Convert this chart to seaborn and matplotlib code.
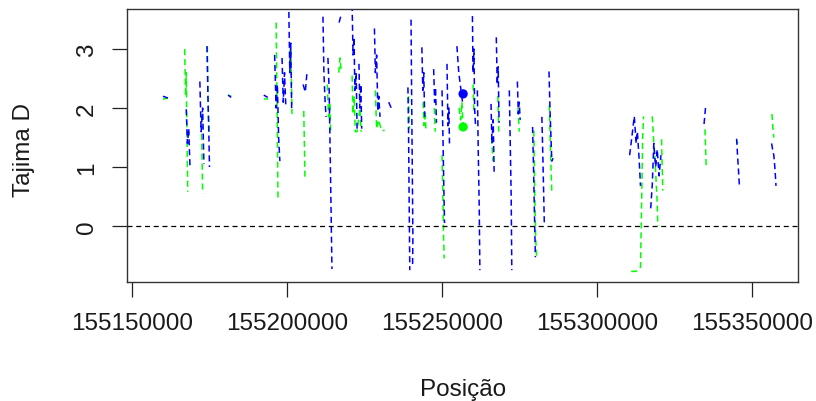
import numpy as np
import pandas as pd
import matplotlib
matplotlib.use("Agg")
import matplotlib.pyplot as plt
import seaborn as sns

N = np.nan
# ---- data (positions in kb, Tajima's D values); NaN marks a gap ----
blue_pos = [155160.0,155161.6, N, 155167.5,155167.9,155168.3,155168.7, N,
            155171.9,155172.3,155172.8,155173.2, N, 155174.2,155174.5,155174.8,155175.0, N,
            155181.0,155182.0, N, 155192.5,155193.8, N,
            155196.0,155196.5,155196.9,155197.3,155197.7, N,
            155198.4,155198.8,155199.2,155199.6, N, 155200.6,155200.9,155201.2,155201.5, N,
            155205.2,155205.9,155206.4, N,
            155211.6,155211.9,155212.3,155212.6, N, 155213.2,155213.6,155214.0,155214.5, N,
            155216.8,155217.3, N,
            155221.0,155221.3,155221.6,155221.9,155222.3,155222.6, N,
            155223.2,155223.5,155223.8,155224.1, N,
            155228.2,155228.5,155228.9,155229.3,155229.6,155230.0, N,
            155232.8,155233.8, N,
            155239.0,155239.2,155239.4,155239.6, N,
            155240.0,155240.2,155240.4,155240.6,155240.5, N,
            155243.5,155243.8,155244.1,155244.4, N,
            155247.3,155247.6,155247.9,155248.2, N,
            155250.0,155250.3,155250.6,155250.8, N,
            155251.6,155251.9,155252.2,155252.4, N,
            155254.8,155255.4,155256.0,155256.6, N,
            155259.8,155260.0,155260.3,155260.5,155260.8, N,
            155261.4,155261.7,155262.0,155262.2, N,
            155265.8,155266.1,155266.5,155266.8, N,
            155267.5,155267.8,155268.1,155268.4, N,
            155271.7,155272.0,155272.3,155272.5, N,
            155274.3,155274.6,155274.9,155275.2, N,
            155279.2,155279.5,155279.8,155280.1, N,
            155282.2,155282.5,155282.8,155283.0, N,
            155284.5,155284.8,155285.1,155285.4,155285.8, N,
            155310.5,155311.2,155312.0,155312.6,155313.0,155313.6,155314.0, N,
            155317.3,155317.8,155318.3,155318.9,155319.4,155320.0,155320.6, N,
            155334.5,155335.0, N,
            155345.0,155345.3,155345.6,155345.9, N,
            155356.3,155356.6,155357.0,155357.4,155357.7]
blue_td = [2.20,2.17, N, 1.98,1.40,1.65,1.02, N,
           2.45,1.60,2.00,1.05, N, 3.05,2.20,1.55,1.00, N,
           2.22,2.18, N, 2.22,2.18, N,
           2.90,2.00,2.40,1.50,1.10, N,
           2.85,2.10,2.60,2.05, N, 3.63,2.60,3.10,2.00, N,
           2.40,2.27,2.58, N,
           3.55,2.60,2.10,1.85, N, 2.85,2.30,1.00,-0.73, N,
           3.45,3.55, N,
           3.75,2.90,3.20,2.30,2.60,1.65, N,
           2.75,2.00,2.40,1.65, N,
           3.35,2.60,2.90,1.95,2.20,1.85, N,
           2.10,1.98, N,
           2.35,1.60,0.40,-0.75, N,
           3.50,2.20,1.00,-0.20,-0.70, N,
           3.03,2.30,2.60,1.85, N,
           2.66,2.10,2.35,1.75, N,
           2.30,1.50,0.60,0.05, N,
           2.75,1.70,2.00,1.40, N,
           3.05,2.60,2.35,2.10, N,
           3.56,2.60,3.00,2.00,1.70, N,
           2.30,1.20,0.30,-0.75, N,
           2.07,1.40,1.80,0.92, N,
           3.20,2.40,2.70,1.75, N,
           2.30,1.40,0.50,-0.75, N,
           2.45,1.90,2.10,1.80, N,
           1.68,1.00,0.20,-0.53, N,
           1.85,1.20,0.50,0.00, N,
           2.62,2.00,1.55,1.10,1.15, N,
           1.20,1.50,1.86,1.40,1.60,1.10,0.68, N,
           0.30,0.70,1.40,1.00,1.30,0.85,1.20, N,
           1.73,2.02, N,
           1.48,1.20,0.95,0.68, N,
           1.40,1.30,1.20,0.95,0.68]

green_pos = [155160.0,155161.6, N,
             155167.0,155167.3,155167.5,155167.8,155168.0, N,
             155172.4,155172.6,155172.8, N, 155174.3,155174.6,155174.9, N,
             155181.0,155182.0, N, 155192.5,155193.8, N,
             155196.5,155196.7,155196.9,155197.1, N,
             155201.3,155201.6, N,
             155205.4,155205.6,155205.8, N,
             155213.0,155213.4,155213.8,155214.1, N,
             155216.7,155217.1,155217.5, N,
             155221.0,155221.3,155221.7,155222.0,155222.6,155223.5,155223.9, N,
             155228.5,155228.9,155229.5,155230.5,155231.5, N,
             155239.2,155239.5, N,
             155243.9,155244.2,155244.6,155244.8, N,
             155247.5,155247.8, N,
             155250.0,155250.3,155250.5,155250.7, N,
             155255.5,155256.0,155256.4,155256.8, N,
             155260.0,155260.3, N,
             155266.0,155266.4, N, 155268.0,155268.3, N,
             155274.5,155274.9, N,
             155279.6,155279.9,155280.2,155280.5, N,
             155284.6,155284.9,155285.2,155285.4, N,
             155311.0,155312.5,155314.0,155314.4,155314.7,155315.0, N,
             155317.8,155318.3,155318.8,155319.3,155319.6, N,
             155320.8,155321.0,155321.2, N,
             155334.8,155335.0,155335.2, N,
             155345.0,155345.4, N,
             155356.4,155356.8,155357.0]
green_td = [2.15,2.17, N,
            3.00,2.20,2.60,1.30,0.58, N,
            1.90,1.20,0.55, N, 3.05,2.00,1.60, N,
            2.22,2.20, N, 2.15,2.15, N,
            3.45,2.40,1.60,0.42, N,
            3.00,1.90, N,
            1.95,1.40,0.80, N,
            2.40,1.85,2.10,1.60, N,
            2.60,2.85,2.60, N,
            2.55,1.90,2.20,1.60,1.60,2.00,1.60, N,
            2.30,1.65,1.80,1.62,1.62, N,
            2.20,1.65, N,
            2.10,1.70,1.95,1.60, N,
            2.00,1.60, N,
            1.20,0.40,-0.20,-0.55, N,
            2.00,1.80,2.10,1.68, N,
            2.40,1.90, N,
            1.50,1.10, N, 2.20,1.60, N,
            2.00,1.60, N,
            1.62,0.60,-0.20,-0.53, N,
            2.05,1.40,0.90,0.58, N,
            -0.77,-0.77,-0.70,0.50,1.50,1.86, N,
            1.86,1.40,1.00,0.50,0.00, N,
            1.47,1.00,0.60, N,
            1.64,1.30,1.00, N,
            1.45,1.40, N,
            1.90,1.60,1.50]

point_pos = [155256.8, 155256.8]
point_td = [2.24, 1.68]
point_series = ["blue", "green"]

xticks = [155150000, 155200000, 155250000, 155300000, 155350000]
yticks = [0, 1, 2, 3]


def make_frame(pos, td, name):
    pos = np.asarray(pos, dtype=float)
    td = np.asarray(td, dtype=float)
    seg = np.cumsum(np.isnan(pos))
    d = pd.DataFrame({"pos": pos * 1000, "td": td,
                      "seg": [f"{name}{s}" for s in seg], "serie": name})
    return d.dropna()


df_b = make_frame(blue_pos, blue_td, "blue")
df_g = make_frame(green_pos, green_td, "green")
df_p = pd.DataFrame({"pos": np.array(point_pos) * 1000, "td": point_td,
                     "serie": point_series})

palette = {"blue": "#0000FF", "green": "#00FF00"}

sns.set_style("white")
plt.rcParams["font.family"] = ["Liberation Sans", "DejaVu Sans"]

FS = 17.5
fig = plt.figure(figsize=(8.16, 4.02), dpi=100)
ax = fig.add_axes([127 / 816, 1 - 283 / 402, (798 - 127) / 816, (283 - 10) / 402])

for d in (df_g, df_b):
    sns.lineplot(data=d, x="pos", y="td", hue="serie", units="seg",
                 estimator=None, sort=False, palette=palette, legend=False,
                 linewidth=1.1, linestyle=(0, (4, 2.5)), ax=ax)

sns.scatterplot(data=df_p, x="pos", y="td", hue="serie", palette=palette,
                s=45, edgecolor="none", legend=False, ax=ax, zorder=5)

ax.axhline(0, color="black", linestyle=(0, (4, 3)), linewidth=0.9)

ax.set_xlim(155148400, 155364800)
ax.set_ylim(-0.95, 3.68)
ax.set_xticks(xticks)
ax.set_xticklabels([str(t) for t in xticks])
ax.set_yticks(yticks)
ax.set_yticklabels([str(t) for t in yticks], rotation=90, va="center")
ax.tick_params(axis="both", direction="out", length=10.8, width=0.9,
               color="#222222", labelsize=FS, labelcolor="#1a1a1a",
               bottom=True, left=True)
ax.tick_params(axis="x", pad=11)
ax.tick_params(axis="y", pad=10)
for sp in ax.spines.values():
    sp.set_color("#333333")
    sp.set_linewidth(1.0)
ax.set_xlabel("")
ax.set_ylabel("")
ax.grid(False)

fig.text(463 / 816, 1 - 396 / 402, "Posição", ha="center", va="baseline",
         fontsize=FS, color="#1a1a1a")
fig.text(24 / 816, 1 - 150 / 402, "Tajima D", ha="center", va="center",
         rotation=90, fontsize=FS, color="#1a1a1a")

fig.savefig("out.png", dpi=100, facecolor="white")
